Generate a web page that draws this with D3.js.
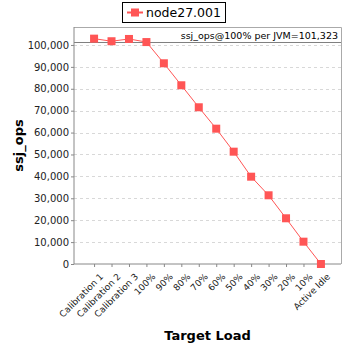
<!DOCTYPE html>
<html>
<head>
<meta charset="utf-8">
<script src="https://cdn.jsdelivr.net/npm/d3@7"></script>
<style>
  html, body { margin: 0; padding: 0; background: #fff; }
  svg { display: block; font-family: "DejaVu Sans", sans-serif; }
</style>
</head>
<body>
<svg id="chart" width="348" height="348"></svg>
<script>
// Load levels on the x axis
const categories = ["Calibration 1", "Calibration 2", "Calibration 3", "100%", "90%", "80%", "70%",
  "60%", "50%", "40%", "30%", "20%", "10%", "Active Idle"];
// ssj_ops measured at each level
const ssjOps = [102880, 101700, 102740, 101323, 91640, 81600, 71550,
  61780, 51280, 39860, 31370, 20870, 10190, 0];
const yTicks = [0, 10000, 20000, 30000, 40000, 50000, 60000, 70000, 80000, 90000, 100000];
const seriesName = "node27.001";
const refValue = 101323;
const refLabel = "ssj_ops@100% per JVM=101,323";

const svg = d3.select("#chart");
const plot = { left: 74, right: 341, top: 27, bottom: 264 };
const red = "#ff5555";

const x = d3.scalePoint().domain(categories).range([plot.left, plot.right]).padding(1.15);
const y = d3.scaleLinear().domain([0, 108200]).range([plot.bottom, plot.top]);

// background and horizontal gridlines
svg.append("rect").attr("x", plot.left).attr("y", plot.top)
  .attr("width", plot.right - plot.left).attr("height", plot.bottom - plot.top)
  .attr("fill", "#fff");
svg.append("g").selectAll("line").data(yTicks.filter(d => d > 0)).join("line")
  .attr("x1", plot.left).attr("x2", plot.right)
  .attr("y1", d => Math.round(y(d)) + 0.5).attr("y2", d => Math.round(y(d)) + 0.5)
  .attr("stroke", "#d8d8d8").attr("stroke-dasharray", "3,3");

// top/right frame
svg.append("path")
  .attr("d", `M${plot.left},${plot.top + 0.5}H${plot.right + 0.5}V${plot.bottom}`)
  .attr("fill", "none").attr("stroke", "#aaaaaa");

// reference line
svg.append("line").attr("x1", plot.left).attr("x2", plot.right)
  .attr("y1", Math.round(y(refValue)) + 0.5).attr("y2", Math.round(y(refValue)) + 0.5)
  .attr("stroke", "#808080").attr("stroke-width", 1.2);
svg.append("text").attr("x", plot.right - 3).attr("y", y(refValue) - 3)
  .attr("text-anchor", "end").attr("font-size", 9.5).attr("fill", "#000")
  .text(refLabel);

// axes
const yAxis = svg.append("g").attr("transform", `translate(${plot.left},0)`)
  .call(d3.axisLeft(y).tickValues(yTicks).tickSize(3).tickPadding(2)
    .tickFormat(d3.format(",")));
const xAxis = svg.append("g").attr("transform", `translate(0,${plot.bottom})`)
  .call(d3.axisBottom(x).tickSize(3).tickSizeOuter(0));
[yAxis, xAxis].forEach(g => {
  g.select(".domain").attr("stroke", "#888");
  g.selectAll(".tick line").attr("stroke", "#888");
  g.selectAll("text").attr("font-family", "DejaVu Sans, sans-serif").attr("font-size", 10).attr("fill", "#222");
});
yAxis.select(".domain").attr("d", `M0,${plot.top}V${plot.bottom}`);
xAxis.select(".domain").attr("d", `M${plot.left},0H${plot.right}`);
xAxis.selectAll(".tick text")
  .attr("font-size", 9)
  .attr("text-anchor", "end")
  .attr("dx", 0).attr("dy", 0)
  .attr("transform", "translate(5,9) rotate(-45)");

// series line and markers
svg.append("path").datum(ssjOps)
  .attr("fill", "none").attr("stroke", red).attr("stroke-width", 1)
  .attr("d", d3.line().x((d, i) => x(categories[i])).y(d => y(d)));
svg.append("g").selectAll("rect").data(ssjOps).join("rect")
  .attr("x", (d, i) => x(categories[i]) - 4).attr("y", d => y(d) - 4)
  .attr("width", 8).attr("height", 8).attr("fill", red);

// axis titles
svg.append("text").attr("transform", `translate(23,${(plot.top + plot.bottom) / 2}) rotate(-90)`)
  .attr("text-anchor", "middle").attr("font-size", 13).attr("font-weight", "bold")
  .text("ssj_ops");
svg.append("text").attr("x", (plot.left + plot.right) / 2).attr("y", 340)
  .attr("text-anchor", "middle").attr("font-size", 13).attr("font-weight", "bold")
  .text("Target Load");

// legend
const legend = svg.append("g");
legend.append("rect").attr("x", 122.5).attr("y", 2.5).attr("width", 103).attr("height", 20)
  .attr("fill", "#fff").attr("stroke", "#000");
legend.append("line").attr("x1", 127).attr("x2", 143).attr("y1", 12.5).attr("y2", 12.5)
  .attr("stroke", red).attr("stroke-width", 2);
legend.append("rect").attr("x", 131).attr("y", 8.5).attr("width", 8).attr("height", 8).attr("fill", red);
legend.append("text").attr("x", 146).attr("y", 17).attr("font-size", 12.5).text(seriesName);
</script>
</body>
</html>
